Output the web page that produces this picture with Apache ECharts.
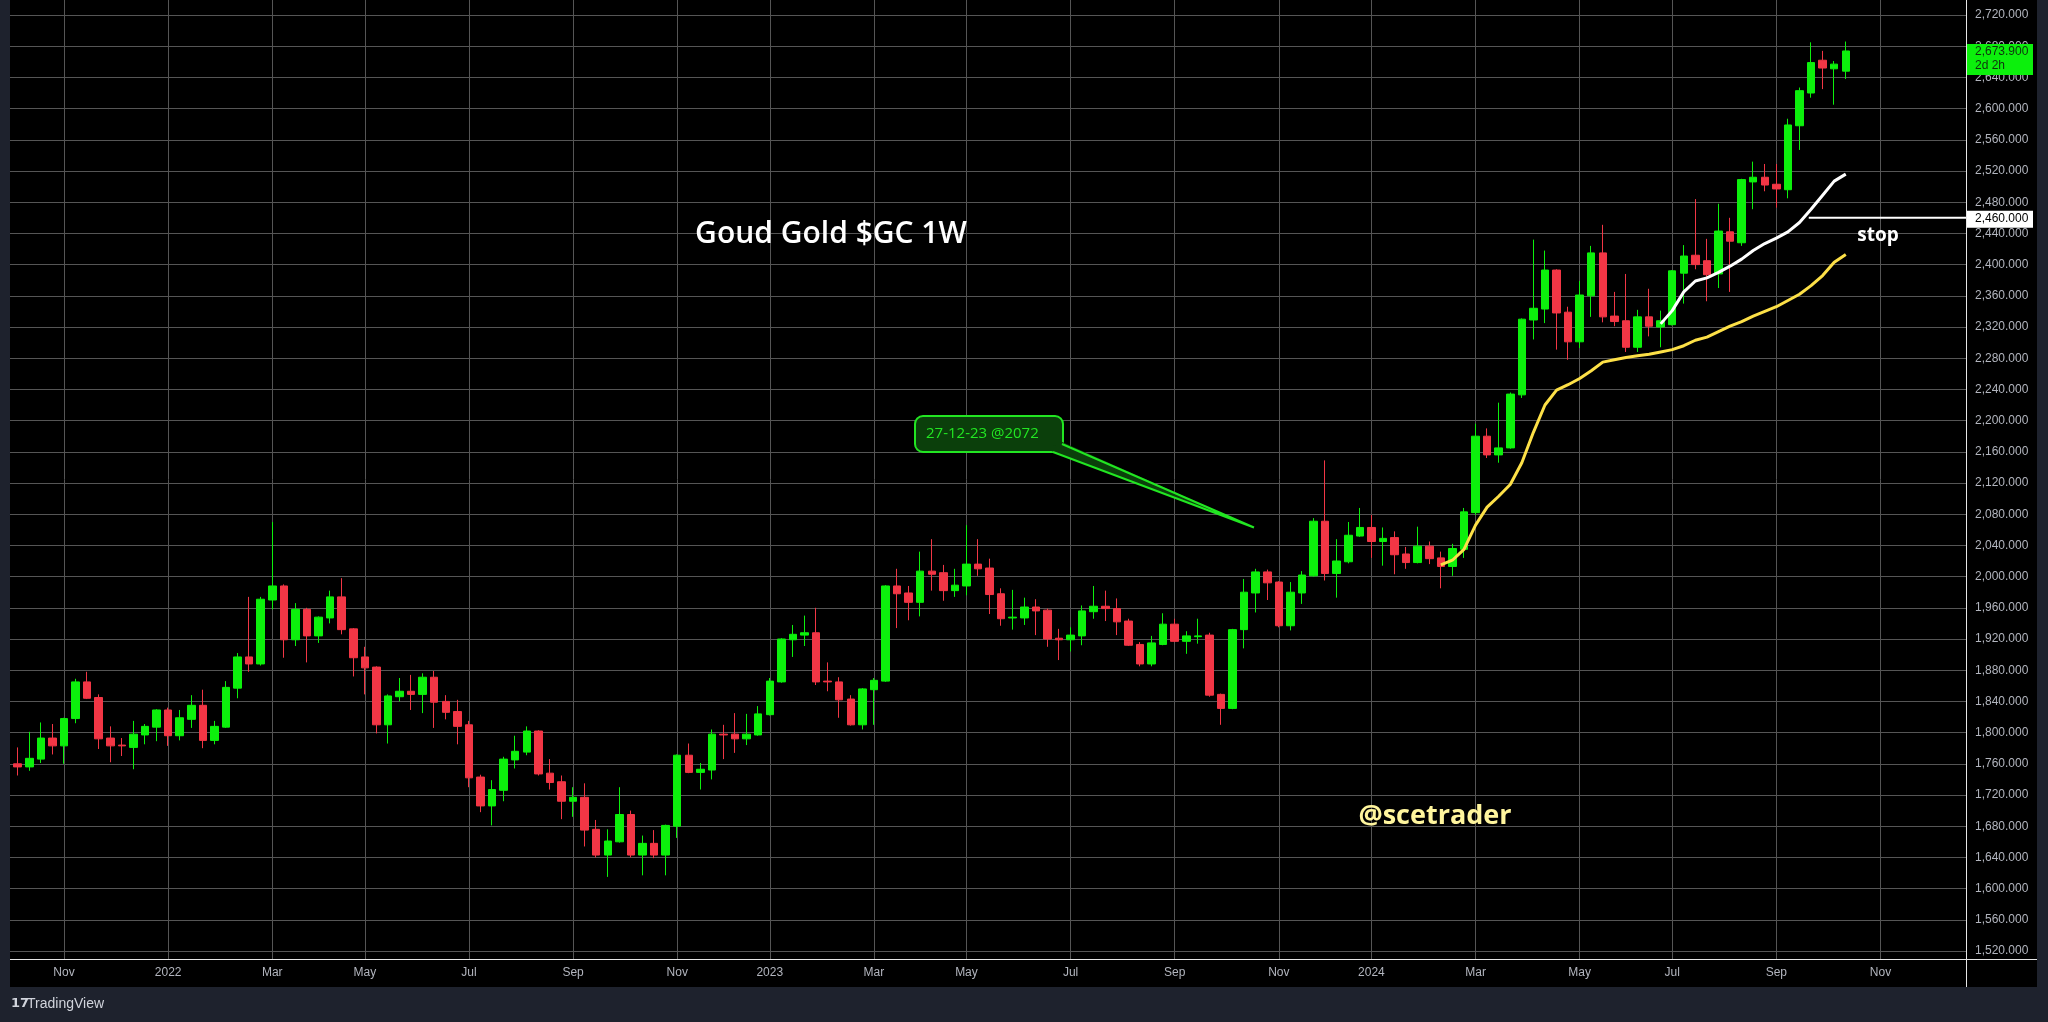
<!DOCTYPE html>
<html>
<head>
<meta charset="utf-8">
<script src="https://cdn.jsdelivr.net/npm/echarts@6/dist/echarts.min.js"></script>
<style>
html,body{margin:0;padding:0;background:#000;overflow:hidden;}
#c{width:2048px;height:1022px;}
</style>
</head>
<body>
<div id="c"></div>
<script>
// Weekly candles, week 0 = 2021-11-01 (first week of Nov 2021); first candle week -4 = 2021-10-04
const weeks = Array.from({length: 159}, (_, k) => k - 4);
const opens = [1760,1756,1766,1793,1783,1818,1865,1845,1793,1784,1781,1797,1807,1829,1796,1817,1835,1790,1807,1857,
1897,1888,1970,1988,1919,1958,1924,1947,1974,1933,1897,1884,1810,1846,1853,1849,1871,1840,1827,1810,
1743,1706,1726,1765,1775,1802,1748,1737,1712,1717,1676,1643,1660,1695,1643,1658,1643,1680,1771,1749,
1752,1798,1798,1792,1797,1823,1865,1919,1925,1928,1866,1865,1843,1810,1855,1866,1988,1979,1967,2007,
2005,1982,1988,2016,2011,1978,1947,1947,1961,1957,1921,1919,1924,1955,1962,1959,1943,1913,1888,1913,
1939,1917,1923,1925,1849,1831,1932,1979,2006,1993,1937,1979,2001,2071,2004,2019,2052,2063,2045,2050,
2029,2018,2039,2024,2013,2035,2082,2180,2156,2165,2233,2329,2343,2393,2339,2301,2360,2415,2334,2328,
2294,2333,2320,2323,2389,2412,2405,2388,2442,2428,2506,2512,2503,2496,2578,2620,2662,2651,2648];
const closes = [1756,1767,1793,1783,1818,1865,1844,1792,1783,1783,1798,1808,1829,1796,1819,1835,1790,1808,1858,1897,
1888,1971,1988,1919,1958,1924,1948,1974,1932,1896,1883,1810,1847,1853,1849,1871,1839,1826,1808,1742,
1706,1727,1766,1776,1802,1747,1736,1712,1717,1675,1643,1661,1695,1643,1658,1643,1681,1771,1749,1753,
1798,1797,1792,1798,1824,1866,1920,1926,1928,1865,1865,1842,1810,1856,1867,1988,1978,1967,2007,2003,
1982,1989,2016,2010,1977,1946,1948,1961,1956,1920,1919,1925,1956,1962,1959,1942,1912,1888,1915,1939,
1917,1924,1924,1848,1831,1932,1980,2006,1992,1937,1980,2002,2071,2004,2020,2053,2063,2045,2049,2028,
2018,2039,2023,2013,2036,2083,2180,2156,2165,2234,2330,2344,2393,2338,2301,2361,2415,2333,2327,2294,
2333,2321,2328,2392,2411,2400,2387,2443,2430,2509,2512,2502,2497,2579,2623,2659,2652,2657,2673.9];
const lows = [1745,1751,1761,1772,1760,1812,1843,1779,1762,1770,1753,1785,1789,1783,1790,1806,1780,1785,1806,1844,
1878,1886,1958,1896,1911,1890,1915,1940,1926,1872,1849,1799,1786,1840,1829,1825,1806,1817,1785,1730,
1698,1681,1712,1754,1771,1745,1727,1689,1692,1654,1640,1615,1659,1640,1617,1639,1617,1665,1748,1727,
1740,1766,1774,1784,1796,1822,1864,1897,1911,1861,1853,1819,1809,1804,1810,1865,1934,1944,1949,1982,
1969,1974,1976,2001,1952,1937,1932,1938,1925,1910,1893,1904,1912,1946,1943,1925,1911,1885,1885,1912,
1916,1901,1914,1846,1810,1830,1908,1954,1970,1935,1931,1965,2000,1995,1973,2017,2051,2024,2014,2003,
2010,2017,2016,1985,2001,2024,2079,2152,2146,2164,2229,2304,2325,2291,2278,2293,2333,2326,2321,2288,
2288,2308,2294,2322,2350,2394,2353,2370,2365,2424,2471,2494,2473,2485,2547,2614,2625,2605,2638];
const highs = [1781,1801,1813,1811,1819,1869,1878,1849,1808,1793,1815,1811,1830,1832,1829,1848,1855,1815,1866,1902,
1974,1974,2070,1990,1966,1960,1949,1982,1998,1934,1910,1885,1849,1870,1874,1876,1879,1848,1842,1815,
1746,1739,1769,1796,1808,1803,1766,1745,1730,1735,1688,1676,1730,1700,1668,1675,1682,1772,1786,1761,
1804,1810,1825,1824,1834,1870,1921,1938,1950,1960,1890,1871,1848,1857,1870,1989,2010,1988,2032,2048,
2015,2010,2066,2048,2023,1985,1983,1973,1971,1959,1933,1935,1963,1988,1982,1972,1946,1916,1924,1953,
1946,1930,1946,1928,1850,1933,1997,2010,2009,1994,1993,2007,2075,2149,2048,2070,2088,2079,2063,2058,
2038,2064,2045,2032,2042,2088,2196,2190,2223,2236,2331,2432,2418,2394,2346,2379,2424,2451,2365,2388,
2342,2369,2341,2393,2425,2484,2433,2478,2460,2510,2532,2529,2529,2587,2627,2685,2674,2661,2686];

// Moving-average lines
const yellowWeeks = [119,120,121,122,123,124,125,126,127,128,129,130,131,132,133,134,135,136,137,138,139,140,141,142,143,144,145,146,147,148,149,150,151,152,153,154];
const yellowVals  = [2015,2021,2035,2066,2089,2103,2118,2146,2185,2220,2239,2246,2254,2264,2275,2278,2281,2283,2285,2288,2291,2296,2303,2307,2314,2321,2327,2334,2340,2346,2354,2362,2373,2386,2403,2413];
const whiteWeeks  = [138,139,140,141,142,143,144,145,146,147,148,149,150,151,152,153,154];
const whiteVals   = [2324,2341,2365,2379,2383,2390,2398,2407,2418,2427,2434,2442,2454,2471,2489,2507,2516];

// Stop level
const stopLevel = 2460;
const stopFromWeek = 150.8;
const lastPrice = 2673.9;

// Axis ticks
const monthTickWeeks  = [0,9,18,26,35,44,53,61,70,78,87,96,105,113,122,131,139,148,157];
const monthTickLabels = ['Nov','2022','Mar','May','Jul','Sep','Nov','2023','Mar','May','Jul','Sep','Nov','2024','Mar','May','Jul','Sep','Nov'];
const priceTicks = [1520,1560,1600,1640,1680,1720,1760,1800,1840,1880,1920,1960,2000,2040,2080,2120,2160,2200,2240,2280,2320,2360,2400,2440,2480,2520,2560,2600,2640,2680,2720];

const GREEN = '#0cf00c', RED = '#f23645', GRID = '#555555', AXIS = '#e6e6e6', LBL = '#b2b5be';
const fmtPrice = v => Number(v).toLocaleString('en-US', {minimumFractionDigits: 3, maximumFractionDigits: 3});

const chart = echarts.init(document.getElementById('c'), null, {width: 2048, height: 1022});

const candleData = weeks.map((w, k) => [w, opens[k], closes[k], lows[k], highs[k]]);
const labelMap = {};
monthTickWeeks.forEach((w, k) => labelMap[w] = monthTickLabels[k]);

const Y_TOP = 0, Y_AXIS = 959, X_LEFT = 10, X_AXIS = 1966;
const PX_PER_WEEK = 11.57, X0 = 64;      // x of week 0
const PX_PER_USD = 0.78, Y2720 = 15;     // y of 2720

const option = {
  backgroundColor: '#000',
  animation: false,
  grid: {left: X_LEFT, right: 2048 - X_AXIS, top: Y_TOP, bottom: 1022 - Y_AXIS, containLabel: false},
  xAxis: {
    type: 'value',
    min: (X_LEFT - X0) / PX_PER_WEEK,
    max: (X_AXIS - X0) / PX_PER_WEEK,
    axisLine: {show: true, onZero: false, lineStyle: {color: AXIS, width: 1}},
    axisTick: {show: false, customValues: monthTickWeeks},
    axisLabel: {
      customValues: monthTickWeeks,
      formatter: v => labelMap[Math.round(v)] || '',
      color: LBL, fontFamily: 'Liberation Sans', fontSize: 12, margin: 8
    },
    splitLine: {show: true, lineStyle: {color: GRID, width: 1}}
  },
  yAxis: {
    type: 'value',
    position: 'right',
    scale: true,
    min: 2720 - (Y_AXIS - Y2720) / PX_PER_USD,
    max: 2720 + (Y2720 - Y_TOP) / PX_PER_USD,
    axisLine: {show: true, onZero: false, lineStyle: {color: AXIS, width: 1}},
    axisTick: {show: false, customValues: priceTicks},
    axisLabel: {
      customValues: priceTicks,
      formatter: v => fmtPrice(v),
      color: LBL, fontFamily: 'Liberation Sans', fontSize: 12, margin: 9
    },
    splitLine: {show: true, lineStyle: {color: GRID, width: 1}}
  },
  series: [
    {
      type: 'candlestick',
      data: candleData,
      barWidth: 8,
      itemStyle: {color: GREEN, color0: RED, borderColor: GREEN, borderColor0: RED, borderWidth: 1},
      z: 3
    },
    {
      type: 'line',
      data: yellowWeeks.map((w, k) => [w, yellowVals[k]]),
      showSymbol: false, symbol: 'none',
      lineStyle: {color: '#fde047', width: 3},
      z: 4
    },
    {
      type: 'line',
      data: whiteWeeks.map((w, k) => [w, whiteVals[k]]),
      showSymbol: false, symbol: 'none',
      lineStyle: {color: '#ffffff', width: 3},
      z: 4
    },
    {
      type: 'line',
      data: [[stopFromWeek, stopLevel], [(X_AXIS - X0) / PX_PER_WEEK, stopLevel]],
      showSymbol: false, symbol: 'none',
      lineStyle: {color: '#ffffff', width: 2},
      z: 4
    }
  ]
};
chart.setOption(option);

// Annotations positioned from data coordinates
const yStop = chart.convertToPixel({yAxisIndex: 0}, stopLevel);
const yLast = chart.convertToPixel({yAxisIndex: 0}, lastPrice);
const tip = chart.convertToPixel({gridIndex: 0}, [102.85, 2063]);

chart.setOption({
  graphic: [
    // dark frame strips
    {type: 'rect', z: 50, shape: {x: 0, y: 0, width: X_LEFT, height: 1022}, style: {fill: '#1e222d'}},
    {type: 'rect', z: 50, shape: {x: 2037, y: 0, width: 11, height: 1022}, style: {fill: '#1e222d'}},
    {type: 'rect', z: 50, shape: {x: 0, y: 987, width: 2048, height: 35}, style: {fill: '#1e222d'}},
    // price-scale border and time-scale border
    {type: 'line', z: 51, shape: {x1: X_AXIS + 0.5, y1: 0, x2: X_AXIS + 0.5, y2: 987}, style: {stroke: AXIS, lineWidth: 1}},
    {type: 'line', z: 51, shape: {x1: X_LEFT, y1: Y_AXIS + 0.5, x2: 2037, y2: Y_AXIS + 0.5}, style: {stroke: AXIS, lineWidth: 1}},
    // title and watermark
    {type: 'text', z: 60, x: 831, y: 234, style: {text: 'Goud Gold $GC 1W', fill: '#ffffff', font: '600 30px "Open Sans"', align: 'center', verticalAlign: 'middle'}},
    {type: 'text', z: 60, x: 1435, y: 816, style: {text: '@scetrader', fill: '#fff59d', font: '700 27px "Open Sans"', align: 'center', verticalAlign: 'middle'}},
    {type: 'text', z: 60, x: 1878, y: yStop + 18, style: {text: 'stop', fill: '#ffffff', font: '700 19px "Open Sans"', align: 'center', verticalAlign: 'middle'}},
    // callout
    {type: 'rect', z: 60, shape: {x: 915, y: 416, width: 148, height: 36, r: 8}, style: {fill: '#0b3f0b', stroke: '#22e622', lineWidth: 2}},
    {type: 'polygon', z: 61, shape: {points: [[1049, 450], [1060, 441], [tip[0], tip[1]]]}, style: {fill: '#0b3f0b'}},
    {type: 'polyline', z: 62, shape: {points: [[1053, 452], [tip[0], tip[1]], [1062, 444]]}, style: {stroke: '#22e622', lineWidth: 2, fill: null}},
    {type: 'text', z: 63, x: 926, y: 434, style: {text: '27-12-23 @2072', fill: '#22e622', font: '15px "Open Sans"', align: 'left', verticalAlign: 'middle'}},
    // price boxes on the axis
    {type: 'rect', z: 70, shape: {x: 1967, y: yStop - 7, width: 66, height: 17}, style: {fill: '#ffffff'}},
    {type: 'text', z: 71, x: 1975, y: yStop + 1, style: {text: fmtPrice(stopLevel), fill: '#000000', font: '12px "Liberation Sans"', verticalAlign: 'middle'}},
    {type: 'rect', z: 70, shape: {x: 1967, y: yLast - 7, width: 66, height: 31}, style: {fill: '#0cf00c'}},
    {type: 'text', z: 71, x: 1975, y: yLast + 1, style: {text: fmtPrice(lastPrice), fill: '#10300f', font: '12px "Liberation Sans"', verticalAlign: 'middle'}},
    {type: 'text', z: 71, x: 1975, y: yLast + 15, style: {text: '2d 2h', fill: '#10300f', font: '12px "Liberation Sans"', verticalAlign: 'middle'}},
    // TradingView footer
    {type: 'text', z: 60, x: 11, y: 1004, style: {text: '17', fill: '#d1d4dc', font: 'bold 13px "DejaVu Sans"', verticalAlign: 'middle'}},
    {type: 'text', z: 60, x: 27, y: 1004, style: {text: 'TradingView', fill: '#d1d4dc', font: '14px "Liberation Sans Narrow", "Liberation Sans"', verticalAlign: 'middle'}}
  ]
});
</script>
</body>
</html>
